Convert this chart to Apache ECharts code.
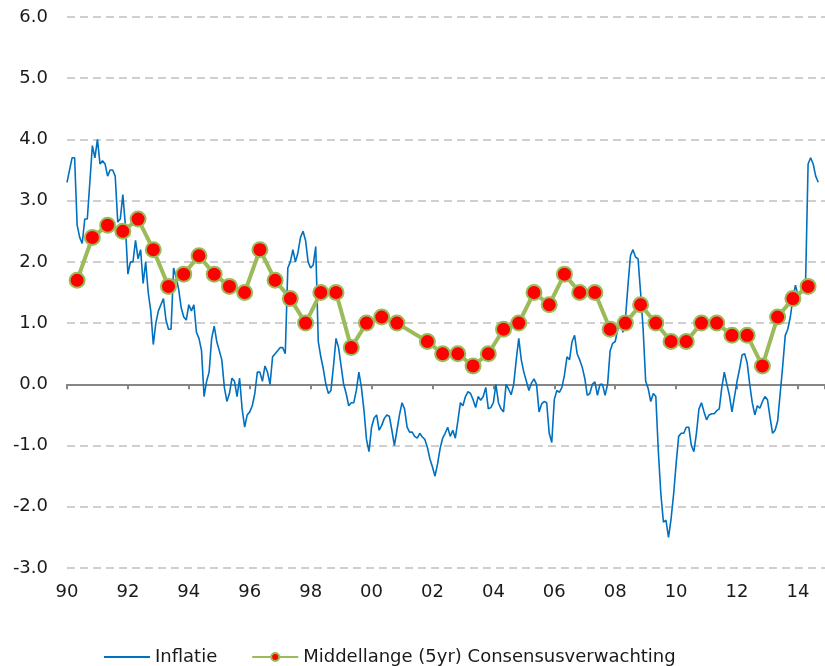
<!DOCTYPE html>
<html>
<head>
<meta charset="utf-8">
<script src="https://cdn.jsdelivr.net/npm/echarts@6/dist/echarts.min.js"></script>
<style>
html,body{margin:0;padding:0;background:#fff;}
#chart{width:825px;height:666px;}
</style>
</head>
<body>
<div id="chart"></div>
<script>
// maandcijfers inflatie, vanaf jan 1990
var startYear = 1990;
var inflatie = [
  3.3, 3.5, 3.7, 3.7, 2.6, 2.4, 2.3, 2.7, 2.7, 3.3, 3.9, 3.7,        // 1990
  4.0, 3.6, 3.65, 3.6, 3.4, 3.5, 3.5, 3.4, 2.65, 2.7, 3.1, 2.6,      // 1991
  1.8, 2.0, 2.0, 2.35, 2.05, 2.2, 1.65, 2.0, 1.5, 1.2, 0.65, 1.0,    // 1992
  1.2, 1.3, 1.4, 1.05, 0.9, 0.9, 1.9, 1.75, 1.55, 1.25, 1.1, 1.05,   // 1993
  1.3, 1.2, 1.3, 0.85, 0.75, 0.55, -0.2, 0.05, 0.2, 0.75, 0.95, 0.7, // 1994
  0.55, 0.4, -0.05, -0.28, -0.15, 0.1, 0.05, -0.2, 0.1, -0.4, -0.7, -0.5, // 1995
  -0.45, -0.35, -0.15, 0.2, 0.2, 0.05, 0.3, 0.2, 0.0, 0.45, 0.5, 0.55,   // 1996
  0.6, 0.6, 0.5, 1.9, 2.0, 2.2, 2.0, 2.15, 2.4, 2.5, 2.35, 2.0,      // 1997
  1.9, 1.95, 2.25, 0.7, 0.45, 0.25, 0.0, -0.15, -0.1, 0.3, 0.75, 0.6, // 1998
  0.3, 0.0, -0.15, -0.35, -0.3, -0.3, -0.1, 0.2, -0.05, -0.42, -0.9, -1.1, // 1999
  -0.7, -0.55, -0.5, -0.75, -0.67, -0.56, -0.5, -0.52, -0.75, -1.0, -0.75, -0.5, // 2000
  -0.3, -0.4, -0.7, -0.78, -0.78, -0.85, -0.88, -0.8, -0.86, -0.9, -1.03, -1.22, // 2001
  -1.35, -1.5, -1.3, -1.05, -0.88, -0.8, -0.7, -0.85, -0.75, -0.88, -0.6, -0.3,  // 2002
  -0.35, -0.2, -0.12, -0.15, -0.25, -0.38, -0.2, -0.26, -0.2, -0.05, -0.4, -0.38, // 2003
  -0.3, 0.0, -0.3, -0.4, -0.45, 0.0, -0.08, -0.17, 0.0, 0.4, 0.75, 0.4,  // 2004
  0.2, 0.05, -0.1, 0.02, 0.09, 0.0, -0.45, -0.32, -0.28, -0.3, -0.8, -0.95, // 2005
  -0.25, -0.1, -0.13, -0.05, 0.15, 0.45, 0.4, 0.7, 0.8, 0.5, 0.4, 0.28, // 2006
  0.1, -0.18, -0.15, 0.0, 0.04, -0.18, 0.0, 0.0, -0.18, 0.0, 0.55, 0.67, // 2007
  0.7, 0.9, 1.1, 0.85, 1.05, 1.6, 2.1, 2.2, 2.08, 2.05, 1.5, 0.9,    // 2008
  0.05, -0.07, -0.28, -0.15, -0.2, -1.1, -1.8, -2.25, -2.22, -2.5, -2.2, -1.8, // 2009
  -1.3, -0.85, -0.8, -0.8, -0.7, -0.7, -1.0, -1.1, -0.8, -0.4, -0.3, -0.45, // 2010
  -0.58, -0.5, -0.48, -0.48, -0.43, -0.4, -0.05, 0.2, 0.0, -0.18, -0.45, -0.2, // 2011
  0.05, 0.25, 0.48, 0.5, 0.35, 0.0, -0.3, -0.5, -0.35, -0.39, -0.28, -0.2, // 2012
  -0.25, -0.54, -0.8, -0.75, -0.6, -0.15, 0.3, 0.8, 0.9, 1.1, 1.4, 1.62, // 2013
  1.45, 1.5, 1.55, 1.65, 3.6, 3.7, 3.6, 3.4, 3.3                     // 2014
];

// consensus (5yr) peilingen
var consensusDates = [
  '1990-05','1990-11','1991-05','1991-11','1992-05','1992-11','1993-05','1993-11',
  '1994-05','1994-11','1995-05','1995-11','1996-05','1996-11','1997-05','1997-11',
  '1998-05','1998-11','1999-05','1999-11','2000-05','2000-11','2001-11',
  '2002-05','2002-11','2003-05','2003-11','2004-05','2004-11','2005-05','2005-11',
  '2006-05','2006-11','2007-05','2007-11','2008-05','2008-11','2009-05','2009-11',
  '2010-05','2010-11','2011-05','2011-11','2012-05','2012-11','2013-05','2013-11','2014-05'
];
var consensus = [
  1.7, 2.4, 2.6, 2.5, 2.7, 2.2, 1.6, 1.8,
  2.1, 1.8, 1.6, 1.5, 2.2, 1.7, 1.4, 1.0,
  1.5, 1.5, 0.6, 1.0, 1.1, 1.0, 0.7,
  0.5, 0.5, 0.3, 0.5, 0.9, 1.0, 1.5, 1.3,
  1.8, 1.5, 1.5, 0.9, 1.0, 1.3, 1.0, 0.7,
  0.7, 1.0, 1.0, 0.8, 0.8, 0.3, 1.1, 1.4, 1.6
];

var yTicks = [-3, -2, -1, 0, 1, 2, 3, 4, 5, 6];

function monthToYear(s) {
  var p = s.split('-');
  return parseInt(p[0], 10) + (parseInt(p[1], 10) - 1) / 12;
}

var inflData = inflatie.map(function(v, i){ return [startYear + i / 12, v]; });
var consData = consensusDates.map(function(d, i){ return [monthToYear(d), consensus[i]]; });

var fontFam = 'DejaVu Sans';
var xMax = 1990 + 758 / 30.456;

var chart = echarts.init(document.getElementById('chart'));
var option = {
  animation: false,
  grid: { left: 67, right: 0, top: 17, bottom: 98 },
  legend: {
    left: 98,
    top: 643,
    itemWidth: 46,
    itemHeight: 10,
    itemGap: 34,
    textStyle: { fontFamily: fontFam, fontSize: 18, color: '#1a1a1a' },
    data: [
      { name: 'Inflatie', itemStyle: { opacity: 0 } },
      { name: 'Middellange (5yr) Consensusverwachting' }
    ]
  },
  xAxis: [
    {
      type: 'value',
      min: 1990,
      max: xMax,
      interval: 2,
      position: 'bottom',
      axisLine: { show: true, onZero: true, lineStyle: { color: '#868686', width: 2 } },
      axisTick: { show: true, length: 5, lineStyle: { color: '#868686', width: 2 } },
      axisLabel: { show: false },
      splitLine: { show: false }
    },
    {
      type: 'value',
      min: 1990,
      max: xMax,
      interval: 2,
      position: 'bottom',
      axisLine: { show: false, onZero: false },
      axisTick: { show: false },
      splitLine: { show: false },
      axisLabel: {
        margin: 15,
        fontFamily: fontFam,
        fontSize: 18,
        color: '#1a1a1a',
        showMaxLabel: false,
        formatter: function(v){
          var y = Math.round(v) % 100;
          return (y < 10 ? '0' : '') + y;
        }
      }
    }
  ],
  yAxis: {
    type: 'value',
    min: yTicks[0],
    max: yTicks[yTicks.length - 1],
    interval: 1,
    axisLine: { show: false },
    axisTick: { show: false },
    axisLabel: {
      margin: 19,
      fontFamily: fontFam,
      fontSize: 18,
      color: '#1a1a1a',
      formatter: function(v){ return v.toFixed(1); }
    },
    splitLine: { lineStyle: { color: '#c0c0c0', width: 1.5, type: [8, 5] } }
  },
  series: [
    {
      name: 'Inflatie',
      type: 'line',
      data: inflData,
      symbol: 'none',
      lineStyle: { color: '#0070C0', width: 1.6 },
      itemStyle: { color: '#0070C0' },
      z: 2
    },
    {
      name: 'Middellange (5yr) Consensusverwachting',
      type: 'line',
      data: consData,
      symbol: 'circle',
      symbolSize: 15,
      lineStyle: { color: '#9BBB59', width: 4 },
      itemStyle: { color: '#FF0000', borderColor: '#9BBB59', borderWidth: 2 },
      z: 3
    }
  ]
};
chart.setOption(option);
</script>
</body>
</html>
